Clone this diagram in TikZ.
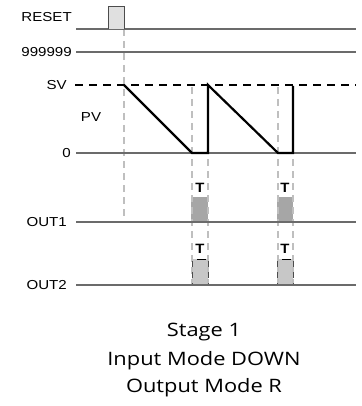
\documentclass[tikz,border=0pt]{standalone}
\usepackage{fontspec}
\setmainfont{Liberation Sans}
\newfontfamily\captionfont{Open Sans}
\begin{document}
\begin{tikzpicture}[x=1pt,y=-1pt,
  lbl/.style={anchor=east, font=\fontsize{13}{13}\selectfont, inner sep=0pt, xscale=1.16},
  tlbl/.style={font=\bfseries\fontsize{13.5}{13.5}\selectfont, inner sep=0pt, xscale=1.1},
  captext/.style={font=\captionfont\fontsize{18.5}{18.5}\selectfont, inner sep=0pt, xscale=1.18},
  axis/.style={draw=black!58, line width=1.1pt},
  guide/.style={draw=black!25, line width=1.5pt, dash pattern=on 7pt off 5pt},
  svline/.style={line width=1.8pt, dash pattern=on 8pt off 6pt},
  pvline/.style={line width=2.2pt, line join=miter},
  pulse/.style={fill=black!12, draw=black!70, line width=1pt},
  out1box/.style={fill=black!35},
  out2box/.style={fill=black!22}]
\useasboundingbox (0,0) rectangle (361,406);

% signal labels
\node[lbl] (reset) at (72,17) {RESET};
\node[lbl] (max)   at (72,52) {999999};
\node[lbl] (sv)    at (67,85) {SV};
\node[font=\fontsize{13}{13}\selectfont, inner sep=0pt, xscale=1.16] (pv) at (91,117) {PV};
\node[lbl] (zero)  at (71,153) {0};
\node[lbl] (out1)  at (67,222) {OUT1};
\node[lbl] (out2)  at (67,285) {OUT2};

% axis end points
\coordinate (reset-l) at (76,29);  \coordinate (reset-r) at (356,29);
\coordinate (max-l)   at (76,52);  \coordinate (max-r)   at (356,52);
\coordinate (sv-l)    at (75,85);  \coordinate (sv-r)    at (356,85);
\coordinate (zero-l)  at (76,153); \coordinate (zero-r)  at (356,153);
\coordinate (out1-l)  at (76,222); \coordinate (out1-r)  at (356,222);
\coordinate (out2-l)  at (76,285); \coordinate (out2-r)  at (356,285);

% output pulses
\fill[out1box] (191,197) rectangle (208,222);
\fill[out1box] (277,197) rectangle (293,222);
\fill[out2box] (192,259) rectangle (208,285);
\fill[out2box] (277,259) rectangle (293,285);

% time guides
\coordinate (g0-t) at (124,29);  \coordinate (g0-b) at (124,222);
\coordinate (g1-t) at (192,87);  \coordinate (g1-b) at (192,285);
\coordinate (g2-t) at (208,87);  \coordinate (g2-b) at (208,285);
\coordinate (g3-t) at (278,87);  \coordinate (g3-b) at (278,285);
\coordinate (g4-t) at (293,87);  \coordinate (g4-b) at (293,285);
\draw[guide] (g0-t) -- (g0-b);
\draw[guide] (g1-t) -- (g1-b);
\draw[guide] (g2-t) -- (g2-b);
\draw[guide] (g3-t) -- (g3-b);
\draw[guide] (g4-t) -- (g4-b);

% OUT2 pulse outlines
\foreach \a/\b in {192/208, 277/293}{
  \draw[black, line width=0.8pt] (\a+5,259) -- (\b-2,259);
  \draw[black!70, line width=0.8pt, dash pattern=on 6pt off 5pt] (\a,261) -- (\a,285);
  \draw[black!70, line width=0.8pt, dash pattern=on 6pt off 5pt] (\b,261) -- (\b,285);
}

% axes
\draw[axis] (reset-l) -- (reset-r);
\draw[axis] (max-l) -- (max-r);
\draw[axis] (zero-l) -- (zero-r);
\draw[axis] (out1-l) -- (out1-r);
\draw[axis] (out2-l) -- (out2-r);
\draw[svline] (sv-l) -- (sv-r);

% reset pulse
\draw[pulse] (108,29) |- (124,7) -- (124,29);

% process value sawtooth
\draw[pvline] (124,85) -- (192,153) -- (208,153) -- (208,85)
  -- (278,153) -- (293,153) -- (293,86);

% timer labels
\node[tlbl] (t1a) at (200,188) {T};
\node[tlbl] (t1b) at (285,188) {T};
\node[tlbl] (t2a) at (200,249) {T};
\node[tlbl] (t2b) at (285,249) {T};

% caption
\node[captext] (c1) at (204,332) {Stage 1};
\node[captext] (c2) at (204,361) {Input Mode DOWN};
\node[captext] (c3) at (204,388) {Output Mode R};
\end{tikzpicture}
\end{document}
